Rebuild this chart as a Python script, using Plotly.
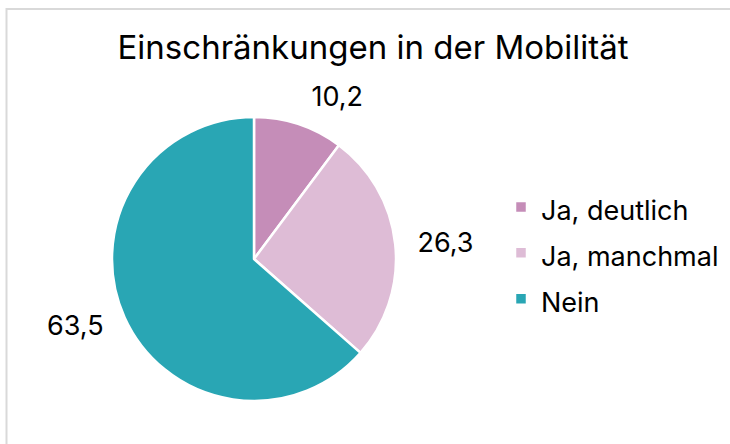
import plotly.graph_objects as go

categories = ["Ja, deutlich", "Ja, manchmal", "Nein"]
values = [10.2, 26.3, 63.5]
colors = ["#C58DB8", "#DEBCD6", "#29A6B4"]
title_text = "Einschränkungen in der Mobilität"

W, H = 730, 444
cx, cy, r = 254, 259, 142
r_lab = 156  # radius of the invisible helper pie used only to push labels outward
FONT = "Inter"


def dom(rad):
    return dict(x=[(cx - rad) / W, (cx + rad) / W],
                y=[(H - cy - rad) / H, (H - cy + rad) / H])


legend_labels = [f"<span style='font-size:27px'>{c}</span>" for c in categories]

fig = go.Figure()
# visible pie (slices + legend)
fig.add_trace(go.Pie(
    labels=legend_labels,
    values=values,
    sort=False,
    direction="clockwise",
    rotation=0,
    marker=dict(colors=colors, line=dict(color="white", width=2.5)),
    textinfo="none",
    domain=dom(r),
    showlegend=True,
    hovertemplate="%{customdata}: %{value:.1f}<extra></extra>",
    customdata=categories,
))
# invisible helper pie: carries the outside value labels
fig.add_trace(go.Pie(
    labels=legend_labels,
    values=values,
    sort=False,
    direction="clockwise",
    rotation=0,
    marker=dict(colors=["rgba(0,0,0,0)"] * len(values), line=dict(width=0)),
    texttemplate="%{value:.1f}",
    textposition="outside",
    textfont=dict(size=27, color="#000000", family=FONT),
    domain=dom(r_lab),
    showlegend=False,
    hoverinfo="skip",
))

fig.update_layout(
    width=W, height=H,
    margin=dict(l=0, r=0, t=0, b=0),
    paper_bgcolor="white",
    separators=",.",
    font=dict(family=FONT, color="#000000"),
    title=dict(text=title_text, x=373 / W, xanchor="center", y=1 - 47 / H, yanchor="middle",
               font=dict(size=33, color="#000000", family=FONT)),
    legend=dict(x=501 / W, xanchor="left", y=1 - 179 / H, yanchor="top",
                font=dict(size=33, color="#000000", family=FONT), itemwidth=30),
    shapes=[dict(type="rect", xref="paper", yref="paper",
                 x0=6.5 / W, x1=1.2, y0=-0.2, y1=1 - 9 / H,
                 line=dict(color="#D9D9D9", width=2), fillcolor="rgba(0,0,0,0)", layer="below")],
)

fig.write_html("out.html", config={"displayModeBar": False},
               post_script="document.body.style.margin='0';")
